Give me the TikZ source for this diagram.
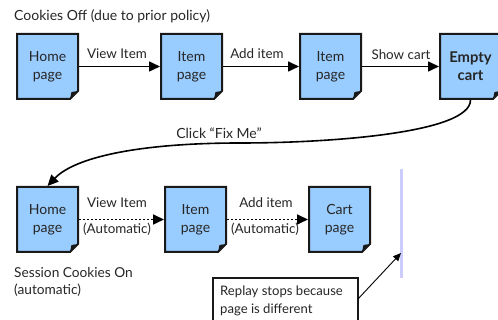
\documentclass[tikz,border=0pt]{standalone}
\usepackage{fontspec}
\setmainfont{Lato}
\usetikzlibrary{arrows.meta,calc}
\tikzset{
  x=1pt,y=-1pt,
  every node/.style={font=\fontsize{14}{17.6}\selectfont,text=black!85},
  pagebox/.style={minimum width=61pt,minimum height=65pt,inner sep=0pt,align=center,outer sep=1pt},
  pageedge/.style={draw=black!90,line width=2pt,fill=pageblue,line join=miter},
  flow/.style={line width=1.6pt,draw=black,-{Triangle[length=11pt,width=10pt]}},
  autoflow/.style={line width=1.7pt,draw=black,dash pattern=on 1.7pt off 2.3pt,-{Triangle[length=11pt,width=10pt]}},
  lbl/.style={inner sep=0pt},
  edgelbl/.style={inner sep=0pt,font=\fontsize{13.4}{17.6}\selectfont},
}
\definecolor{pageblue}{HTML}{99CCFF}
\definecolor{barlav}{HTML}{CCCCFF}
\newcommand{\pagedoc}[4]{%
  \coordinate (#1-nw) at (#2,#3);
  \draw[pageedge] (#2,#3) -- ++(61,0) -- ++(0,57) -- ++(-8,8) -- ++(-53,0) -- cycle;
  \fill[black!90] ($(#2,#3)+(61,57)$) -- ++(-8,8) -- ++(1.5,-7) -- cycle;
  \node[pagebox] (#1) at ($(#2,#3)+(30.5,32.5)$) {#4};
}
\begin{document}
\begin{tikzpicture}
\useasboundingbox (0,0) rectangle (498,320);
\clip (0,0) rectangle (498,320);
\node[lbl,anchor=west] (t1) at (14,16) {Cookies Off (due to prior policy)};
\pagedoc{a1}{17}{34}{Home\\page}
\pagedoc{a2}{161}{34}{Item\\page}
\pagedoc{a3}{300}{34}{Item\\page}
\pagedoc{a4}{440}{34}{\fontsize{14.8}{17.6}\selectfont\textbf{Empty}\\\fontsize{14.8}{17.6}\selectfont\textbf{cart}}
\draw[flow] (a1.east) -- (a2.west);
\draw[flow] (a2.east) -- (a3.west);
\draw[flow] (a3.east) -- (a4.west);
\node[edgelbl] (l1) at (117,54) {View Item};
\node[edgelbl] (l2) at (257,54) {Add item};
\node[edgelbl] (l3) at (401,55) {Show cart};
\node[lbl] (l4) at (219,133) {Click “Fix Me”};
\pagedoc{b1}{17}{187}{Home\\page}
\pagedoc{b2}{165}{187}{Item\\page}
\pagedoc{b3}{309}{187}{Cart\\page}
\draw[line width=1.6pt,-{Triangle[length=11pt,width=10pt]}] (a4.south) .. controls ($(a4.south)+(0,33)$) and (330,143) .. (240,143) .. controls (140,143) and (75,157) .. (b1.north);
\draw[autoflow] (b1.east) -- (b2.west);
\draw[autoflow] (b2.east) -- (b3.west);
\node[edgelbl] (m1) at (117,203) {View Item};
\node[edgelbl] (m2) at (117,229) {(Automatic)};
\node[edgelbl] (m3) at (266,203) {Add item};
\node[edgelbl] (m4) at (265,229) {(Automatic)};
\node[edgelbl,anchor=north west,align=left,font=\fontsize{13.7}{17.6}\selectfont] (t2) at (14,267) {Session Cookies On\\(automatic)};
\fill[barlav] (400,169) rectangle (402.5,278);
\coordinate (barpt) at (401,253);
\draw[draw=black!90,line width=1.6pt,fill=white] (213,278) rectangle (358,330);
\node[edgelbl,anchor=north west,align=left,font=\fontsize{13.1}{17.6}\selectfont] (r) at (220,286) {Replay stops because\\page is different};
\coordinate (rbox) at (358,299);
\draw[line width=0.9pt,-{Triangle[length=8pt,width=7pt]}] (rbox) -- (barpt);
\end{tikzpicture}
\end{document}
